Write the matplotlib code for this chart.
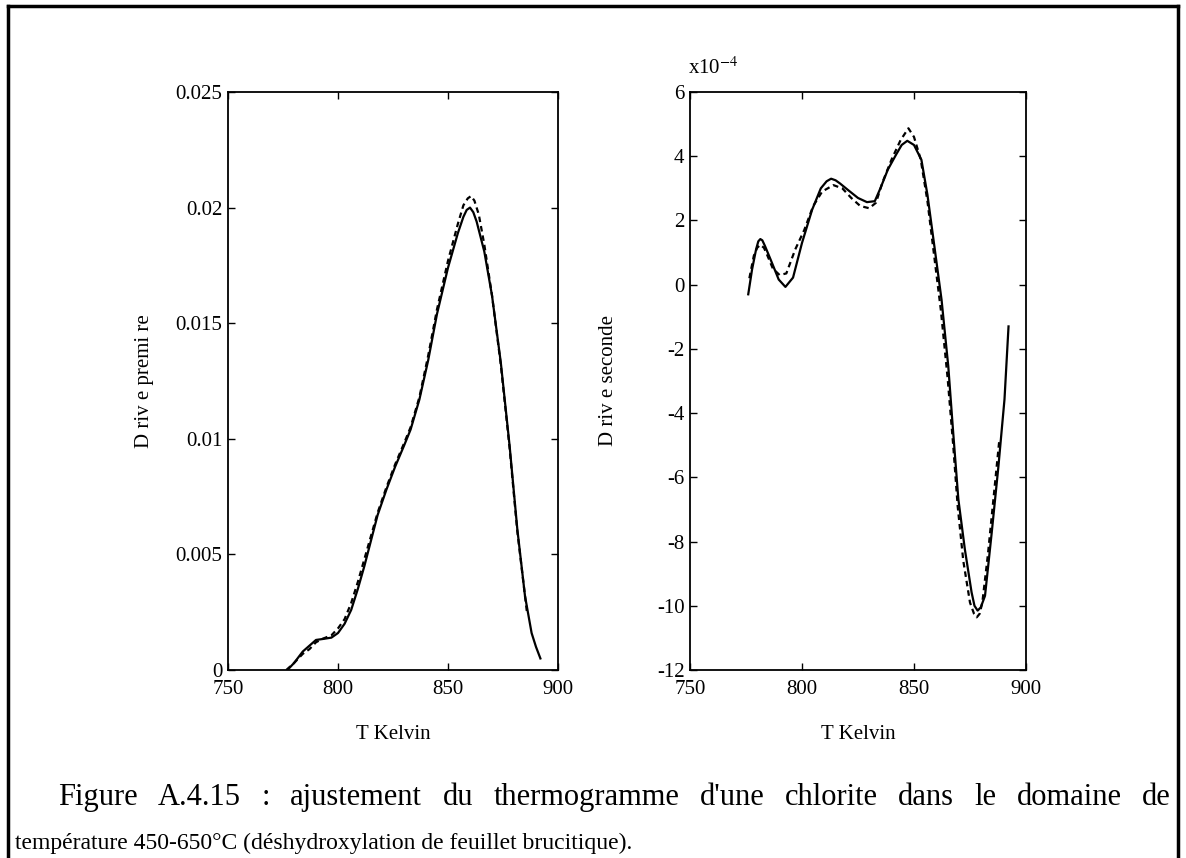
import matplotlib
matplotlib.use('Agg')
import matplotlib.pyplot as plt
from matplotlib.lines import Line2D

plt.rcParams['font.family'] = ['Liberation Serif', 'DejaVu Serif']
plt.rcParams['mathtext.fontset'] = 'stix'
plt.rcParams['axes.unicode_minus'] = False

# derivee premiere : courbe continue (ajustement) et pointillee (mesure)
t1_fit = [777, 780, 784, 787, 790, 793, 797, 800, 803, 806, 809, 812, 815, 818, 822,
          826, 830, 833, 837, 841, 845, 850, 854.5, 857, 858.5, 860, 861.5, 863,
          866.5, 870, 874, 878, 881.5, 885, 888, 890, 892]
d1_fit = [0.0000, 0.0003, 0.0008, 0.00105, 0.0013, 0.00134, 0.0014, 0.0016, 0.0020,
          0.0026, 0.0035, 0.0045, 0.0056, 0.0067, 0.0078, 0.0088, 0.0097, 0.0104,
          0.0117, 0.0134, 0.0154, 0.0174, 0.0189, 0.0196, 0.0199, 0.0200, 0.0198,
          0.0194, 0.0181, 0.0162, 0.0133, 0.0097, 0.0061, 0.0032, 0.0016, 0.0010,
          0.0005]
t1_mes = [776.5, 780, 784, 787, 790, 793, 797, 800, 803, 806, 809, 812, 815, 818,
          822, 826, 830, 833, 837, 841, 845, 850, 854.5, 857, 859, 860.5, 862, 864,
          866.5, 870, 874, 878, 881.5, 886]
d1_mes = [0.0000, 0.0003, 0.0007, 0.0009, 0.0012, 0.00135, 0.0015, 0.0018, 0.0022,
          0.0029, 0.0038, 0.0048, 0.0058, 0.0068, 0.0079, 0.0089, 0.0098, 0.0105,
          0.0118, 0.0136, 0.0156, 0.0177, 0.0193, 0.0201, 0.0204, 0.0205, 0.0203,
          0.0197, 0.0184, 0.0162, 0.0132, 0.0096, 0.0060, 0.0024]

# derivee seconde (x1e-4)
t2_fit = [776, 777.7, 779.5, 780.5, 781.4, 782.3, 783.5, 786, 789.6, 792.6, 796, 800,
          804.5, 808.4, 811, 813, 815, 817, 820.5, 825, 829, 832.5, 835, 838.3, 842,
          844.5, 847, 850, 853.3, 856, 859.3, 862.3, 865.3, 867.5, 869.8, 872.7,
          875.7, 877, 878.4, 879.8, 881.7, 884.7, 887.7, 890.4, 892.2]
d2_fit = [-0.3, 0.47, 1.1, 1.35, 1.42, 1.38, 1.2, 0.78, 0.16, -0.07, 0.22, 1.3, 2.33,
          3.0, 3.22, 3.3, 3.25, 3.15, 2.95, 2.7, 2.57, 2.6, 3.0, 3.58, 4.05, 4.35,
          4.48, 4.35, 3.89, 2.8, 1.09, -0.47, -2.54, -4.61, -6.68, -8.24, -9.58,
          -10.0, -10.15, -10.05, -9.69, -7.72, -5.65, -3.57, -1.3]
t2_mes = [776.5, 778.5, 780, 781.4, 783, 784, 787, 790, 793, 797, 801, 805, 809, 814,
          818, 822, 826, 830, 833, 836, 840, 844, 847.5, 850, 853, 856, 859, 862,
          865, 867.5, 869.5, 872, 875, 876.8, 878, 879.3, 880.5, 883, 886, 888]
d2_mes = [0.2, 0.9, 1.15, 1.24, 1.15, 1.0, 0.5, 0.3, 0.35, 1.1, 1.7, 2.45, 2.9, 3.1,
          3.0, 2.7, 2.45, 2.38, 2.55, 3.2, 3.9, 4.5, 4.87, 4.6, 3.9, 2.6, 0.9, -0.8,
          -2.9, -5.0, -6.9, -8.6, -9.9, -10.25, -10.36, -10.25, -9.9, -8.4, -6.3,
          -4.9]

xticks = [750, 800, 850, 900]
y1ticks = [0, 0.005, 0.01, 0.015, 0.02, 0.025]
y1labels = ['0', '0.005', '0.01', '0.015', '0.02', '0.025']
y2ticks = [-12, -10, -8, -6, -4, -2, 0, 2, 4, 6]
y2labels = [str(v) for v in y2ticks]

legende1 = "Figure A.4.15 : ajustement du thermogramme d'une chlorite dans le domaine de"
legende2 = "température 450-650°C (déshydroxylation de feuillet brucitique)."

W, H = 1186, 858
fig = plt.figure(figsize=(W / 100, H / 100), dpi=100)

ax1 = fig.add_axes([228 / W, 188 / H, 330 / W, 578 / H])
ax2 = fig.add_axes([690 / W, 188 / H, 336 / W, 578 / H])

ax1.plot(t1_fit, d1_fit, color='black', lw=1.6)
ax1.plot(t1_mes, d1_mes, color='black', lw=1.6, linestyle=(0, (2.5, 1.8)))
ax2.plot(t2_fit, d2_fit, color='black', lw=1.6)
ax2.plot(t2_mes, d2_mes, color='black', lw=1.6, linestyle=(0, (2.5, 1.8)))

ax1.set_xlim(750, 900)
ax1.set_ylim(0, 0.025)
ax1.set_yticks(y1ticks)
ax1.set_yticklabels(y1labels)
ax1.set_ylabel('D riv e premi re', fontsize=15)
ax1.yaxis.set_label_coords(-0.224, 0.5)

ax2.set_xlim(750, 900)
ax2.set_ylim(-12, 6)
ax2.set_yticks(y2ticks)
ax2.set_yticklabels(y2labels)
ax2.set_ylabel('D riv e seconde', fontsize=15)
ax2.yaxis.set_label_coords(-0.214, 0.5)
ax2.text(-0.005, 1.031, 'x10$^{-4}$', transform=ax2.transAxes, fontsize=15,
         va='baseline')

for ax in (ax1, ax2):
    ax.set_xticks(xticks)
    ax.set_xlabel('T Kelvin', fontsize=15)
    ax.xaxis.set_label_coords(0.5, -0.095)
    ax.tick_params(direction='in', top=True, right=True, length=5, width=1,
                   labelsize=15)
    ax.tick_params(axis='x', pad=7)
    ax.tick_params(axis='y', pad=4)
    for s in ax.spines.values():
        s.set_linewidth(1.3)

# cadre de la page
fig.add_artist(Line2D([8 / W, 1178 / W], [1 - 6 / H, 1 - 6 / H], color='black', lw=2.5))
fig.add_artist(Line2D([8 / W, 8 / W], [0, 1 - 6 / H], color='black', lw=2.5))
fig.add_artist(Line2D([1178 / W, 1178 / W], [0, 1 - 6 / H], color='black', lw=2.5))

# legende, premiere ligne justifiee
renderer = fig.canvas.get_renderer()
mots = legende1.split()
textes = [fig.text(0, 1 - 805 / H, m, fontsize=22, va='baseline') for m in mots]
larg = [t.get_window_extent(renderer).width for t in textes]
x0, x1 = 58, 1171
esp = (x1 - x0 - sum(larg)) / (len(mots) - 1)
x = x0
for t, l in zip(textes, larg):
    t.set_x(x / W)
    x += l + esp

fig.text(15 / W, 1 - 849 / H, legende2, fontsize=17, va='baseline')

fig.savefig('out.png', dpi=100)
